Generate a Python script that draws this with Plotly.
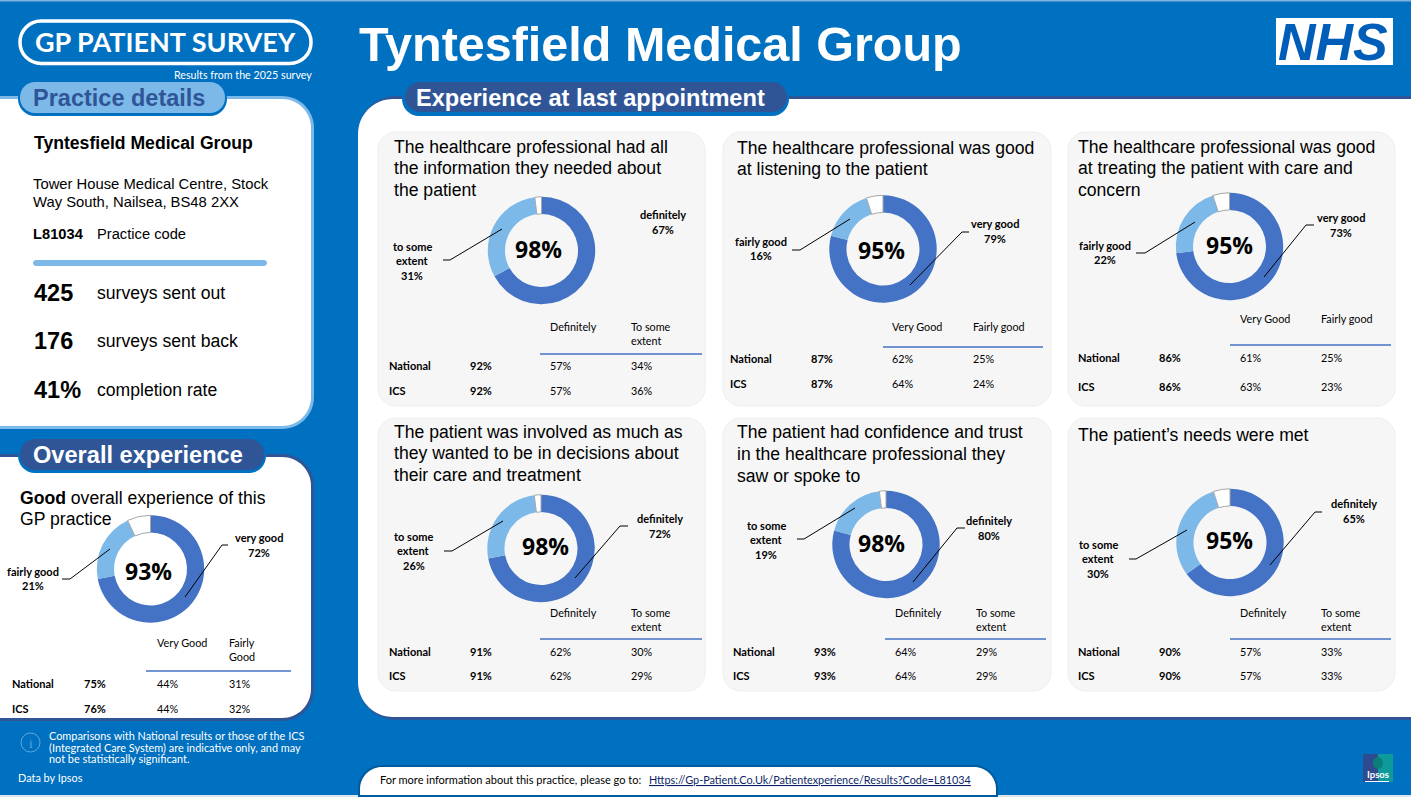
import plotly.graph_objects as go

# ---------- data (index 0 = overall experience, 1-6 = the six cards) ----------
practice_name = "Tyntesfield Medical Group"
address_lines = ["Tower House Medical Centre, Stock", "Way South, Nailsea, BS48 2XX"]
practice_code = "L81034"
stat_values = ["425", "176", "41%"]
stat_labels = ["surveys sent out", "surveys sent back", "completion rate"]
main_labels = ["very good", "definitely", "very good", "very good", "definitely", "definitely", "definitely"]
second_labels = [["fairly good"], ["to some", "extent"], ["fairly good"], ["fairly good"],
                 ["to some", "extent"], ["to some", "extent"], ["to some", "extent"]]
main_values = [72, 67, 79, 73, 72, 80, 65]
second_values = [21, 31, 16, 22, 26, 19, 30]
rest_values = [7, 2, 5, 5, 2, 2, 5]
center_values = [93, 98, 95, 95, 98, 98, 95]
card_titles = [
    ["<b>Good</b> overall experience of this", "GP practice"],
    ["The healthcare professional had all", "the information they needed about", "the patient"],
    ["The healthcare professional was good", "at listening to the patient"],
    ["The healthcare professional was good", "at treating the patient with care and", "concern"],
    ["The patient was involved as much as", "they wanted to be in decisions about", "their care and treatment"],
    ["The patient had confidence and trust", "in the healthcare professional they", "saw or spoke to"],
    ["The patient\u2019s needs were met"],
]
head_a = [["Very Good"], ["Definitely"], ["Very Good"], ["Very Good"], ["Definitely"], ["Definitely"], ["Definitely"]]
head_b = [["Fairly", "Good"], ["To some", "extent"], ["Fairly good"], ["Fairly good"],
          ["To some", "extent"], ["To some", "extent"], ["To some", "extent"]]
national_total = [75, 92, 87, 86, 91, 93, 90]
national_a = [44, 57, 62, 61, 62, 64, 57]
national_b = [31, 34, 25, 25, 30, 29, 33]
ics_total = [76, 92, 87, 86, 91, 93, 90]
ics_a = [44, 57, 64, 63, 62, 64, 57]
ics_b = [32, 36, 24, 23, 29, 29, 33]

# ---------- layout (page pixels) ----------
W, H = 1411, 797
BG, DARK, LIGHT, SERIES = "#0070C0", "#2F5597", "#7CB9E8", "#4472C4"
ARIAL, CAL, NUM = "Liberation Sans", "Lato", "Open Sans"

PANELS = [
    dict(c=(150.5, 569), pct=(148, 571), main=(259, 538), sec=(33, 572),
         lead_main=[(185, 597), (222, 545), (228, 545)], lead_sec=[(62, 579), (70, 579), (110, 549)],
         title=(20, [498, 519]), cols=(12, 84, 157, 229), head=643, rule=(146, 291, 671), rows=(684, 709)),
    dict(c=(541.5, 250.5), pct=(538, 249), main=(663, 215), sec=(412, 247),
         lead_main=None, lead_sec=[(443, 260), (450, 260), (502, 229)],
         title=(394, [147, 168, 190]), cols=(389, 470, 550, 631), head=327, rule=(540, 702, 354), rows=(366, 391)),
    dict(c=(883, 249), pct=(882, 250), main=(995, 224), sec=(761, 242),
         lead_main=[(910, 285), (962, 232), (969, 232)], lead_sec=[(792, 250), (800, 250), (850, 219)],
         title=(737, [148, 169]), cols=(730, 811, 892, 973), head=327, rule=(883, 1043, 347), rows=(359, 384)),
    dict(c=(1229.5, 246.5), pct=(1229, 245), main=(1341, 218), sec=(1105, 246),
         lead_main=[(1264, 277), (1306, 225), (1314, 225)], lead_sec=[(1136, 253), (1145, 253), (1195, 222)],
         title=(1078, [147, 168, 190]), cols=(1078, 1159, 1240, 1321), head=319, rule=(1230, 1391, 345), rows=(358, 387)),
    dict(c=(541, 548.5), pct=(545, 546), main=(660, 519), sec=(414, 537),
         lead_main=[(575, 578), (620, 526), (628, 526)], lead_sec=[(444, 551), (452, 551), (503, 521)],
         title=(394, [432, 453, 475]), cols=(389, 470, 550, 631), head=613, rule=(540, 702, 639), rows=(652, 676)),
    dict(c=(886, 544.5), pct=(882, 543), main=(989, 521), sec=(766, 526),
         lead_main=[(913, 582), (957, 528), (965, 528)], lead_sec=[(797, 539), (804, 539), (855, 508)],
         title=(737, [432, 454, 476]), cols=(733, 814, 895, 976), head=613, rule=(885, 1046, 639), rows=(652, 676)),
    dict(c=(1230, 542.5), pct=(1229, 540), main=(1354, 504), sec=(1098, 545),
         lead_main=[(1270, 565), (1315, 512), (1322, 512)], lead_sec=[(1129, 559), (1136, 559), (1187, 530)],
         title=(1078, [435]), cols=(1078, 1159, 1240, 1321), head=613, rule=(1230, 1391, 639), rows=(652, 676)),
]
DONUT_R = 53.7
CARDS = [(378, 132, 705, 406), (723, 132, 1051, 406), (1068, 132, 1395, 406),
         (378, 418, 705, 691), (723, 418, 1051, 691), (1068, 418, 1395, 691)]

# ---------- helpers ----------
px = lambda x: x / W
py = lambda y: 1 - y / H
shapes, notes = [], []


def rr(x0, y0, x1, y1, tl=0, tr=0, br=0, bl=0):
    k = 0.4477
    p = [f"M{px(x0 + tl)},{py(y0)}", f"L{px(x1 - tr)},{py(y0)}"]
    if tr:
        p.append(f"C{px(x1 - tr * k)},{py(y0)} {px(x1)},{py(y0 + tr * k)} {px(x1)},{py(y0 + tr)}")
    p.append(f"L{px(x1)},{py(y1 - br)}")
    if br:
        p.append(f"C{px(x1)},{py(y1 - br * k)} {px(x1 - br * k)},{py(y1)} {px(x1 - br)},{py(y1)}")
    p.append(f"L{px(x0 + bl)},{py(y1)}")
    if bl:
        p.append(f"C{px(x0 + bl * k)},{py(y1)} {px(x0)},{py(y1 - bl * k)} {px(x0)},{py(y1 - bl)}")
    p.append(f"L{px(x0)},{py(y0 + tl)}")
    if tl:
        p.append(f"C{px(x0)},{py(y0 + tl * k)} {px(x0 + tl * k)},{py(y0)} {px(x0 + tl)},{py(y0)}")
    return "".join(p) + "Z"


def box(x0, y0, x1, y1, fill, r=(0, 0, 0, 0), line=None, lw=0, layer="below"):
    shapes.append(dict(type="path", xref="paper", yref="paper", path=rr(x0, y0, x1, y1, *r),
                       fillcolor=fill, line=dict(color=line or fill, width=lw), layer=layer))


def poly(pts, color="#000000", w=1):
    path = "M" + "L".join(f"{px(x)},{py(y)}" for x, y in pts)
    shapes.append(dict(type="path", xref="paper", yref="paper", path=path,
                       line=dict(color=color, width=w), layer="above"))


def txt(x, y, s, size, color="#000000", fam=ARIAL, anchor="left", **font):
    nudge = {"left": -1, "right": 1, "center": 0}[anchor]
    if fam == CAL and size < 12:
        y -= 0.8
    notes.append(dict(xref="paper", yref="paper", x=px(x + nudge), y=py(y), text=s, showarrow=False,
                      xanchor=anchor, yanchor="middle", borderpad=0, align=anchor,
                      font=dict(family=fam, size=size, color=color, **font)))


# ---------- page furniture ----------
box(0, 0, W, 1.5, "#7FB2DD")
box(0, 795, W, H, "#DCE6EE")

# main white panel
box(358, 96, W + 30, 720, DARK, (38, 0, 0, 38))
box(358, 99, W + 30, 717, "#FFFFFF", (35, 0, 0, 35))
# practice panel
box(-20, 96, 314, 429, LIGHT, (0, 32, 32, 0))
box(-20, 99, 311, 426, "#FFFFFF", (0, 29, 29, 0))
# overall panel
box(-20, 454, 314, 721, DARK, (0, 32, 32, 0))
box(-20, 457, 311, 718, "#FFFFFF", (0, 29, 29, 0))
# footer
box(358, 765, 998, 810, "#005A9E", (24, 24, 0, 0))
box(360, 767, 996, 795, "#FFFFFF", (22, 22, 0, 0))

# survey badge
box(20, 21, 311, 63.5, "rgba(0,0,0,0)", (21, 21, 21, 21), "#FFFFFF", 3.5)
txt(165, 42, "<b>GP PATIENT SURVEY</b>", 27, "#FFFFFF", CAL, "center")
txt(312, 75, "Results from the 2025 survey", 10.7, "#FFFFFF", CAL, "right")

txt(359, 44, f"<b>{practice_name}</b>", 48.5, "#FFFFFF")

# NHS logo
box(1276, 18, 1393, 65, "#FFFFFF")
txt(1333, 42, "<b><i>NHS</i></b>", 52, "#005EB8", ARIAL, "center")

# section pills
box(18, 81, 227, 116, BG, (17, 17, 17, 17))
box(20, 82, 225, 113, LIGHT, (15, 15, 15, 15))
txt(33, 98, "<b>Practice details</b>", 23.5, DARK)
box(18, 438, 266, 473, BG, (17, 17, 17, 17))
box(20, 439, 264, 470, DARK, (15, 15, 15, 15))
txt(33, 455, "<b>Overall experience</b>", 23.6, "#FFFFFF")
box(402, 81, 789, 116, BG, (17, 17, 17, 17))
box(405, 82, 787, 112, DARK, (15, 15, 15, 15))
txt(416, 98, "<b>Experience at last appointment</b>", 23.6, "#FFFFFF")

# practice details
txt(34, 143, f"<b>{practice_name}</b>", 17.6)
for y, line in zip((184, 202), address_lines):
    txt(33, y, line, 14.8)
txt(33, 234, f"<b>{practice_code}</b>", 14.7)
txt(97, 234, "Practice code", 14.7)
box(33, 260, 267, 266, LIGHT, (3, 3, 3, 3))
for y, v, lab in zip((293, 341, 390), stat_values, stat_labels):
    txt(34, y, f"<b>{v}</b>", 23.5)
    txt(97, y, lab, 17.6)

# notes at the foot of the page
shapes.append(dict(type="circle", xref="paper", yref="paper", x0=px(21), x1=px(40), y0=py(752), y1=py(733),
                   line=dict(color="#5FA8DC", width=1), layer="below"))
txt(30.5, 743, "i", 13, "#5FA8DC", "Liberation Serif", "center")
for y, line in zip((736.5, 748, 759.5), ["Comparisons with National results or those of the ICS",
                                         "(Integrated Care System) are indicative only, and may",
                                         "not be statistically significant."]):
    txt(49, y, line, 10.9, "#FFFFFF", CAL)
txt(18, 778, "Data by Ipsos", 10.9, "#FFFFFF", CAL)
txt(380, 780, "For more information about this practice, please go to:", 11, "#000000", CAL)
txt(649, 780, "Https://Gp-Patient.Co.Uk/Patientexperience/Results?Code=L81034", 10.83, "#0B1F66", CAL, lineposition="under")

# Ipsos logo
box(1363, 754, 1378, 782, "#2F4A8F")
box(1378, 754, 1393, 782, "#0E9A9A")
shapes.append(dict(type="circle", xref="paper", yref="paper", x0=px(1373), x1=px(1383), y0=py(769), y1=py(757),
                   fillcolor="#0A7F7A", line=dict(width=0), layer="below"))
box(1365, 781, 1389, 782, "#FFFFFF")
txt(1378, 775, "<b>Ipsos</b>", 9.5, "#FFFFFF", CAL, "center")

# ---------- cards, donuts and tables ----------
for c in CARDS:
    box(*c, "#F6F6F6", (18, 18, 18, 18), "#EEEEEE", 1)

data = []
for i, p in enumerate(PANELS):
    cx, cy = p["c"]
    data.append(go.Pie(
        values=[main_values[i], second_values[i], rest_values[i]],
        sort=False, direction="clockwise", rotation=0, hole=0.68,
        domain=dict(x=[px(cx - DONUT_R), px(cx + DONUT_R)], y=[py(cy + DONUT_R), py(cy - DONUT_R)]),
        marker=dict(colors=[SERIES, LIGHT, "#FFFFFF"], line=dict(color="#A6A6A6", width=[0, 0, 1])),
        textinfo="none", hoverinfo="skip", showlegend=False,
    ))
    txt(*p["pct"], f"<b>{center_values[i]}%</b>", 23, "#000000", NUM, "center")

    tx, tys = p["title"]
    for y, line in zip(tys, card_titles[i]):
        txt(tx, y, line, 17.6)

    mx, my = p["main"]
    for k, s in enumerate([main_labels[i], f"{main_values[i]}%"]):
        txt(mx, my + 15 * k, f"<b>{s}</b>", 11, "#000000", CAL, "center")
    sx, sy = p["sec"]
    for k, s in enumerate(second_labels[i] + [f"{second_values[i]}%"]):
        txt(sx, sy + 14.5 * k, f"<b>{s}</b>", 11, "#000000", CAL, "center")
    if p["lead_main"]:
        poly(p["lead_main"])
    poly(p["lead_sec"])

    c0, c1, c2, c3 = p["cols"]
    for k, s in enumerate(head_a[i]):
        txt(c2, p["head"] + 14 * k, s, 10.8, "#000000", CAL)
    for k, s in enumerate(head_b[i]):
        txt(c3, p["head"] + 14 * k, s, 10.8, "#000000", CAL)
    r0, r1, ry = p["rule"]
    shapes.append(dict(type="line", xref="paper", yref="paper", x0=px(r0), x1=px(r1), y0=py(ry), y1=py(ry),
                       line=dict(color=SERIES, width=1.5), layer="below"))
    rows = [("National", national_total[i], national_a[i], national_b[i]),
            ("ICS", ics_total[i], ics_a[i], ics_b[i])]
    for y, (name, t, a, b) in zip(p["rows"], rows):
        txt(c0, y, f"<b>{name}</b>", 11, "#000000", CAL)
        txt(c1, y, f"<b>{t}%</b>", 11, "#000000", CAL)
        txt(c2, y, f"{a}%", 10.8, "#000000", CAL)
        txt(c3, y, f"{b}%", 10.8, "#000000", CAL)

fig = go.Figure(data=data)
fig.update_layout(width=W, height=H, margin=dict(l=0, r=0, t=0, b=0), autosize=False,
                  paper_bgcolor=BG, plot_bgcolor=BG, shapes=shapes, annotations=notes,
                  showlegend=False)
fig.write_html("out.html", config=dict(displayModeBar=False, staticPlot=True),
               post_script="document.body.style.margin='0';document.body.style.overflow='hidden';")
